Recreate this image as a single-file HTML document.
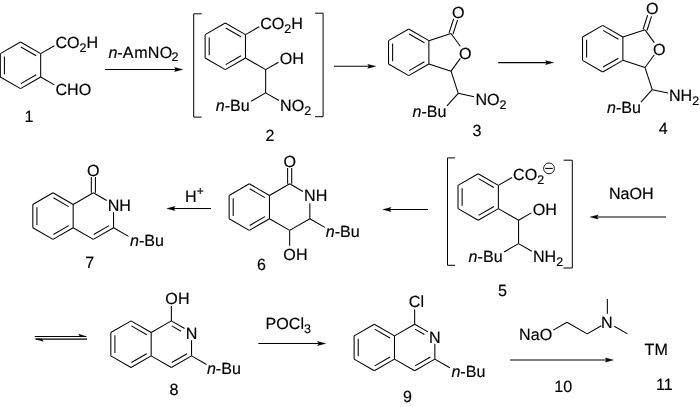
<!DOCTYPE html>
<html lang="en"><head><meta charset="utf-8"><title>Reaction scheme</title>
<style>
html,body{margin:0;padding:0;background:#fff;}
body{width:700px;height:407px;overflow:hidden;}
svg{display:block;will-change:transform;}
.ah{fill:#000;stroke:#000;stroke-width:0.25;stroke-linejoin:miter;}
.br{stroke-width:1.0;}
text{white-space:pre;text-rendering:geometricPrecision;}
</style></head>
<body>
<svg width="700" height="407" viewBox="0 0 700 407">
<g fill="none" stroke="#000" stroke-width="1.05" stroke-linecap="butt" stroke-linejoin="miter">
<line x1="20.50" y1="42.00" x2="40.68" y2="53.65"/>
<line x1="40.68" y1="53.65" x2="40.68" y2="76.95"/>
<line x1="40.68" y1="76.95" x2="20.50" y2="88.60"/>
<line x1="20.50" y1="88.60" x2="0.32" y2="76.95"/>
<line x1="0.32" y1="76.95" x2="0.32" y2="53.65"/>
<line x1="0.32" y1="53.65" x2="20.50" y2="42.00"/>
<line x1="20.87" y1="46.95" x2="36.21" y2="55.80"/>
<line x1="36.21" y1="74.80" x2="20.87" y2="83.65"/>
<line x1="4.42" y1="74.15" x2="4.42" y2="56.45"/>
<line x1="40.68" y1="53.65" x2="54.36" y2="45.75"/>
<line x1="40.68" y1="76.95" x2="54.36" y2="84.85"/>
<line x1="105.10" y1="69.50" x2="176.10" y2="69.50"/>
<path class="ah" d="M182.80,69.50 L174.40,67.35 L175.80,69.50 L174.40,71.65 Z"/>
<line x1="225.30" y1="23.00" x2="245.48" y2="34.65"/>
<line x1="245.48" y1="34.65" x2="245.48" y2="57.95"/>
<line x1="245.48" y1="57.95" x2="225.30" y2="69.60"/>
<line x1="225.30" y1="69.60" x2="205.12" y2="57.95"/>
<line x1="205.12" y1="57.95" x2="205.12" y2="34.65"/>
<line x1="205.12" y1="34.65" x2="225.30" y2="23.00"/>
<line x1="225.67" y1="27.95" x2="241.01" y2="36.80"/>
<line x1="241.01" y1="55.80" x2="225.67" y2="64.65"/>
<line x1="209.22" y1="55.15" x2="209.22" y2="37.45"/>
<line x1="245.48" y1="34.65" x2="259.16" y2="26.75"/>
<line x1="245.48" y1="57.95" x2="265.66" y2="69.60"/>
<line x1="265.66" y1="69.60" x2="278.47" y2="62.20"/>
<line x1="265.66" y1="69.60" x2="265.66" y2="92.90"/>
<line x1="265.66" y1="92.90" x2="251.11" y2="101.30"/>
<line x1="265.66" y1="92.90" x2="278.91" y2="100.55"/>
<polyline class="br" points="201.70,13.80 193.70,13.80 193.70,117.10 201.70,117.10"/>
<polyline class="br" points="315.10,13.20 323.10,13.20 323.10,116.70 315.10,116.70"/>
<line x1="334.00" y1="66.30" x2="369.30" y2="66.30"/>
<path class="ah" d="M376.00,66.30 L367.60,64.15 L369.00,66.30 L367.60,68.45 Z"/>
<line x1="408.70" y1="29.00" x2="428.88" y2="40.65"/>
<line x1="428.88" y1="40.65" x2="428.88" y2="63.95"/>
<line x1="428.88" y1="63.95" x2="408.70" y2="75.60"/>
<line x1="408.70" y1="75.60" x2="388.52" y2="63.95"/>
<line x1="388.52" y1="63.95" x2="388.52" y2="40.65"/>
<line x1="388.52" y1="40.65" x2="408.70" y2="29.00"/>
<line x1="409.07" y1="33.95" x2="424.41" y2="42.80"/>
<line x1="424.41" y1="61.80" x2="409.07" y2="70.65"/>
<line x1="392.62" y1="61.15" x2="392.62" y2="43.45"/>
<line x1="428.88" y1="40.65" x2="451.04" y2="33.45"/>
<line x1="451.04" y1="33.45" x2="460.33" y2="46.23"/>
<line x1="460.33" y1="58.37" x2="451.04" y2="71.15"/>
<line x1="451.04" y1="71.15" x2="428.88" y2="63.95"/>
<line x1="452.99" y1="34.08" x2="457.56" y2="20.01"/>
<line x1="449.09" y1="32.82" x2="453.66" y2="18.74"/>
<line x1="451.04" y1="71.15" x2="458.24" y2="93.31"/>
<line x1="458.24" y1="93.31" x2="447.00" y2="105.79"/>
<line x1="458.24" y1="93.31" x2="473.99" y2="96.66"/>
<line x1="602.70" y1="25.40" x2="622.88" y2="37.05"/>
<line x1="622.88" y1="37.05" x2="622.88" y2="60.35"/>
<line x1="622.88" y1="60.35" x2="602.70" y2="72.00"/>
<line x1="602.70" y1="72.00" x2="582.52" y2="60.35"/>
<line x1="582.52" y1="60.35" x2="582.52" y2="37.05"/>
<line x1="582.52" y1="37.05" x2="602.70" y2="25.40"/>
<line x1="603.07" y1="30.35" x2="618.41" y2="39.20"/>
<line x1="618.41" y1="58.20" x2="603.07" y2="67.05"/>
<line x1="586.62" y1="57.55" x2="586.62" y2="39.85"/>
<line x1="622.88" y1="37.05" x2="645.04" y2="29.85"/>
<line x1="645.04" y1="29.85" x2="654.33" y2="42.63"/>
<line x1="654.33" y1="54.77" x2="645.04" y2="67.55"/>
<line x1="645.04" y1="67.55" x2="622.88" y2="60.35"/>
<line x1="646.99" y1="30.48" x2="651.56" y2="16.41"/>
<line x1="643.09" y1="29.22" x2="647.66" y2="15.14"/>
<line x1="645.04" y1="67.55" x2="652.24" y2="89.71"/>
<line x1="652.24" y1="89.71" x2="641.00" y2="102.19"/>
<line x1="652.24" y1="89.71" x2="667.99" y2="93.06"/>
<line x1="498.20" y1="62.60" x2="547.10" y2="62.60"/>
<path class="ah" d="M553.80,62.60 L545.40,60.45 L546.80,62.60 L545.40,64.75 Z"/>
<line x1="478.20" y1="173.70" x2="498.38" y2="185.35"/>
<line x1="498.38" y1="185.35" x2="498.38" y2="208.65"/>
<line x1="498.38" y1="208.65" x2="478.20" y2="220.30"/>
<line x1="478.20" y1="220.30" x2="458.02" y2="208.65"/>
<line x1="458.02" y1="208.65" x2="458.02" y2="185.35"/>
<line x1="458.02" y1="185.35" x2="478.20" y2="173.70"/>
<line x1="478.57" y1="178.65" x2="493.91" y2="187.50"/>
<line x1="493.91" y1="206.50" x2="478.57" y2="215.35"/>
<line x1="462.12" y1="205.85" x2="462.12" y2="188.15"/>
<line x1="498.38" y1="185.35" x2="512.06" y2="177.45"/>
<circle cx="549.0" cy="168.4" r="5.4" stroke-width="0.9"/>
<line x1="545.20" y1="168.40" x2="552.80" y2="168.40"/>
<line x1="498.38" y1="208.65" x2="518.56" y2="220.30"/>
<line x1="518.56" y1="220.30" x2="531.37" y2="212.90"/>
<line x1="518.56" y1="220.30" x2="518.56" y2="243.60"/>
<line x1="518.56" y1="243.60" x2="504.01" y2="252.00"/>
<line x1="518.56" y1="243.60" x2="531.81" y2="251.25"/>
<polyline class="br" points="455.10,157.90 447.50,157.90 447.50,265.30 455.10,265.30"/>
<polyline class="br" points="563.50,160.20 572.30,160.20 572.30,268.00 563.50,268.00"/>
<line x1="666.00" y1="217.00" x2="596.60" y2="217.00"/>
<path class="ah" d="M589.90,217.00 L598.30,214.85 L596.90,217.00 L598.30,219.15 Z"/>
<line x1="428.10" y1="209.50" x2="389.40" y2="209.50"/>
<path class="ah" d="M382.70,209.50 L391.10,207.35 L389.70,209.50 L391.10,211.65 Z"/>
<line x1="249.30" y1="183.80" x2="269.48" y2="195.45"/>
<line x1="269.48" y1="195.45" x2="269.48" y2="218.75"/>
<line x1="269.48" y1="218.75" x2="249.30" y2="230.40"/>
<line x1="249.30" y1="230.40" x2="229.12" y2="218.75"/>
<line x1="229.12" y1="218.75" x2="229.12" y2="195.45"/>
<line x1="229.12" y1="195.45" x2="249.30" y2="183.80"/>
<line x1="249.67" y1="188.75" x2="265.01" y2="197.60"/>
<line x1="265.01" y1="216.60" x2="249.67" y2="225.45"/>
<line x1="233.22" y1="215.95" x2="233.22" y2="198.25"/>
<line x1="269.48" y1="195.45" x2="289.66" y2="183.80"/>
<line x1="289.66" y1="183.80" x2="302.91" y2="191.45"/>
<line x1="309.84" y1="203.25" x2="309.84" y2="218.75"/>
<line x1="309.84" y1="218.75" x2="289.66" y2="230.40"/>
<line x1="289.66" y1="230.40" x2="269.48" y2="218.75"/>
<line x1="291.71" y1="183.80" x2="291.71" y2="168.00"/>
<line x1="287.61" y1="183.80" x2="287.61" y2="168.00"/>
<line x1="289.66" y1="230.40" x2="289.66" y2="245.70"/>
<line x1="309.84" y1="218.75" x2="324.82" y2="227.40"/>
<line x1="210.90" y1="208.50" x2="173.40" y2="208.50"/>
<path class="ah" d="M166.70,208.50 L175.10,206.35 L173.70,208.50 L175.10,210.65 Z"/>
<line x1="53.00" y1="192.80" x2="73.18" y2="204.45"/>
<line x1="73.18" y1="204.45" x2="73.18" y2="227.75"/>
<line x1="73.18" y1="227.75" x2="53.00" y2="239.40"/>
<line x1="53.00" y1="239.40" x2="32.82" y2="227.75"/>
<line x1="32.82" y1="227.75" x2="32.82" y2="204.45"/>
<line x1="32.82" y1="204.45" x2="53.00" y2="192.80"/>
<line x1="53.37" y1="197.75" x2="68.71" y2="206.60"/>
<line x1="68.71" y1="225.60" x2="53.37" y2="234.45"/>
<line x1="36.92" y1="224.95" x2="36.92" y2="207.25"/>
<line x1="73.18" y1="204.45" x2="93.36" y2="192.80"/>
<line x1="93.36" y1="192.80" x2="106.61" y2="200.45"/>
<line x1="113.54" y1="212.25" x2="113.54" y2="227.75"/>
<line x1="113.54" y1="227.75" x2="93.36" y2="239.40"/>
<line x1="93.36" y1="239.40" x2="73.18" y2="227.75"/>
<line x1="109.06" y1="225.60" x2="93.73" y2="234.45"/>
<line x1="95.41" y1="192.80" x2="95.41" y2="177.00"/>
<line x1="91.31" y1="192.80" x2="91.31" y2="177.00"/>
<line x1="113.54" y1="227.75" x2="128.52" y2="236.40"/>
<line x1="34.80" y1="336.45" x2="86.00" y2="336.45"/>
<line x1="35.80" y1="339.10" x2="87.00" y2="339.10"/>
<path class="ah" d="M87.0,336.7 L78.6,334.1 L80.0,336.7 Z"/>
<path class="ah" d="M34.8,338.85 L43.2,341.45 L41.8,338.85 Z"/>
<line x1="131.00" y1="320.90" x2="151.18" y2="332.55"/>
<line x1="151.18" y1="332.55" x2="151.18" y2="355.85"/>
<line x1="151.18" y1="355.85" x2="131.00" y2="367.50"/>
<line x1="131.00" y1="367.50" x2="110.82" y2="355.85"/>
<line x1="110.82" y1="355.85" x2="110.82" y2="332.55"/>
<line x1="110.82" y1="332.55" x2="131.00" y2="320.90"/>
<line x1="131.37" y1="325.85" x2="146.71" y2="334.70"/>
<line x1="146.71" y1="353.70" x2="131.37" y2="362.55"/>
<line x1="114.92" y1="353.05" x2="114.92" y2="335.35"/>
<line x1="151.18" y1="332.55" x2="171.36" y2="320.90"/>
<line x1="171.36" y1="320.90" x2="184.61" y2="328.55"/>
<line x1="191.54" y1="340.35" x2="191.54" y2="355.85"/>
<line x1="191.54" y1="355.85" x2="171.36" y2="367.50"/>
<line x1="171.36" y1="367.50" x2="151.18" y2="355.85"/>
<line x1="187.06" y1="353.70" x2="171.73" y2="362.55"/>
<line x1="171.73" y1="325.85" x2="181.01" y2="331.21"/>
<line x1="171.36" y1="320.90" x2="171.36" y2="306.10"/>
<line x1="191.54" y1="355.85" x2="206.52" y2="364.50"/>
<line x1="374.30" y1="324.20" x2="394.48" y2="335.85"/>
<line x1="394.48" y1="335.85" x2="394.48" y2="359.15"/>
<line x1="394.48" y1="359.15" x2="374.30" y2="370.80"/>
<line x1="374.30" y1="370.80" x2="354.12" y2="359.15"/>
<line x1="354.12" y1="359.15" x2="354.12" y2="335.85"/>
<line x1="354.12" y1="335.85" x2="374.30" y2="324.20"/>
<line x1="374.67" y1="329.15" x2="390.01" y2="338.00"/>
<line x1="390.01" y1="357.00" x2="374.67" y2="365.85"/>
<line x1="358.22" y1="356.35" x2="358.22" y2="338.65"/>
<line x1="394.48" y1="335.85" x2="414.66" y2="324.20"/>
<line x1="414.66" y1="324.20" x2="427.91" y2="331.85"/>
<line x1="434.84" y1="343.65" x2="434.84" y2="359.15"/>
<line x1="434.84" y1="359.15" x2="414.66" y2="370.80"/>
<line x1="414.66" y1="370.80" x2="394.48" y2="359.15"/>
<line x1="430.36" y1="357.00" x2="415.03" y2="365.85"/>
<line x1="415.03" y1="329.15" x2="424.31" y2="334.51"/>
<line x1="414.66" y1="324.20" x2="414.66" y2="309.40"/>
<line x1="434.84" y1="359.15" x2="449.82" y2="367.80"/>
<line x1="258.30" y1="343.50" x2="319.10" y2="343.50"/>
<path class="ah" d="M325.80,343.50 L317.40,341.35 L318.80,343.50 L317.40,345.65 Z"/>
<line x1="553.30" y1="330.15" x2="566.98" y2="322.25"/>
<line x1="566.98" y1="322.25" x2="587.16" y2="333.90"/>
<line x1="587.16" y1="333.90" x2="601.27" y2="325.75"/>
<line x1="607.34" y1="313.75" x2="607.34" y2="298.95"/>
<line x1="614.26" y1="326.25" x2="627.51" y2="333.90"/>
<line x1="510.10" y1="360.00" x2="606.90" y2="360.00"/>
<path class="ah" d="M613.60,360.00 L605.20,357.85 L606.60,360.00 L605.20,362.15 Z"/>
</g>
<g font-family="'Liberation Sans', Arial, sans-serif" fill="#000" stroke="#000" stroke-width="0.16" letter-spacing="0">
<text transform="translate(55.40,48) scale(1.006,1.012)" text-anchor="start" font-size="16.0">CO<tspan font-size="12.4" dy="3.5">2</tspan><tspan dy="-3.5">H</tspan></text>
<text transform="translate(55.40,95) scale(1.006,1.012)" text-anchor="start" font-size="16.0">CHO</text>
<text transform="translate(29.00,122) scale(1.006,1.012)" text-anchor="middle" font-size="16.0">1</text>
<text transform="translate(108.40,58) scale(1.006,1.012)" text-anchor="start" font-size="16.0"><tspan font-style="italic">n</tspan>-A<tspan dx="0.7">m</tspan><tspan dx="0.3">N</tspan><tspan dx="0.3">O</tspan><tspan font-size="12.4" dy="3.0" dx="-0.9">2</tspan></text>
<text transform="translate(260.16,29) scale(1.006,1.012)" text-anchor="start" font-size="16.0">CO<tspan font-size="12.4" dy="3.5">2</tspan><tspan dy="-3.5">H</tspan></text>
<text transform="translate(279.84,64) scale(1.006,1.012)" text-anchor="start" font-size="16.0">OH</text>
<text transform="translate(249.80,111) scale(1.006,1.012)" text-anchor="end" font-size="16.0"><tspan font-style="italic">n</tspan>-Bu</text>
<text transform="translate(280.04,111) scale(1.006,1.012)" text-anchor="start" font-size="16.0">NO<tspan font-size="12.4" dy="3.5">2</tspan></text>
<text transform="translate(269.90,141) scale(1.006,1.012)" text-anchor="middle" font-size="16.0">2</text>
<text transform="translate(458.24,18) scale(1.006,1.012)" text-anchor="middle" font-size="16.0">O</text>
<text transform="translate(465.33,59) scale(1.006,1.012)" text-anchor="middle" font-size="16.0">O</text>
<text transform="translate(475.40,105) scale(1.006,1.012)" text-anchor="start" font-size="16.0">NO<tspan font-size="12.4" dy="3.5">2</tspan></text>
<text transform="translate(446.50,117) scale(1.006,1.012)" text-anchor="end" font-size="16.0"><tspan font-style="italic">n</tspan>-Bu</text>
<text transform="translate(477.00,136) scale(1.006,1.012)" text-anchor="middle" font-size="16.0">3</text>
<text transform="translate(652.24,14) scale(1.006,1.012)" text-anchor="middle" font-size="16.0">O</text>
<text transform="translate(659.33,55) scale(1.006,1.012)" text-anchor="middle" font-size="16.0">O</text>
<text transform="translate(669.00,101) scale(1.006,1.012)" text-anchor="start" font-size="16.0">NH<tspan font-size="12.4" dy="3.5">2</tspan></text>
<text transform="translate(641.00,113) scale(1.006,1.012)" text-anchor="end" font-size="16.0"><tspan font-style="italic">n</tspan>-Bu</text>
<text transform="translate(663.30,134) scale(1.006,1.012)" text-anchor="middle" font-size="16.0">4</text>
<text transform="translate(513.06,180) scale(1.006,1.012)" text-anchor="start" font-size="16.0">CO<tspan font-size="12.4" dy="3.5">2</tspan></text>
<text transform="translate(532.74,215) scale(1.006,1.012)" text-anchor="start" font-size="16.0">OH</text>
<text transform="translate(502.60,262) scale(1.006,1.012)" text-anchor="end" font-size="16.0"><tspan font-style="italic">n</tspan>-Bu</text>
<text transform="translate(532.94,262) scale(1.006,1.012)" text-anchor="start" font-size="16.0">NH<tspan font-size="12.4" dy="3.5">2</tspan></text>
<text transform="translate(502.50,296) scale(1.006,1.012)" text-anchor="middle" font-size="16.0">5</text>
<text transform="translate(609.00,199) scale(1.006,1.012)" text-anchor="start" font-size="16.0">NaOH</text>
<text transform="translate(289.66,167) scale(1.006,1.012)" text-anchor="middle" font-size="16.0">O</text>
<text transform="translate(304.04,201) scale(1.006,1.012)" text-anchor="start" font-size="16.0">NH</text>
<text transform="translate(283.36,260) scale(1.006,1.012)" text-anchor="start" font-size="16.0">OH</text>
<text transform="translate(325.70,237) scale(1.006,1.012)" text-anchor="start" font-size="16.0"><tspan font-style="italic">n</tspan>-Bu</text>
<text transform="translate(261.50,270) scale(1.006,1.012)" text-anchor="middle" font-size="16.0">6</text>
<text transform="translate(184.90,202) scale(1.006,1.012)" text-anchor="start" font-size="16.0">H<tspan font-size="12" dy="-6.5" dx="0.1">+</tspan></text>
<text transform="translate(93.36,176) scale(1.006,1.012)" text-anchor="middle" font-size="16.0">O</text>
<text transform="translate(107.74,211) scale(1.006,1.012)" text-anchor="start" font-size="16.0">NH</text>
<text transform="translate(130.00,246) scale(1.006,1.012)" text-anchor="start" font-size="16.0"><tspan font-style="italic">n</tspan>-Bu</text>
<text transform="translate(89.70,268) scale(1.006,1.012)" text-anchor="middle" font-size="16.0">7</text>
<text transform="translate(165.36,304) scale(1.006,1.012)" text-anchor="start" font-size="16.0">OH</text>
<text transform="translate(191.54,339) scale(1.006,1.012)" text-anchor="middle" font-size="16.0">N</text>
<text transform="translate(206.90,374) scale(1.006,1.012)" text-anchor="start" font-size="16.0"><tspan font-style="italic">n</tspan>-Bu</text>
<text transform="translate(174.00,395) scale(1.006,1.012)" text-anchor="middle" font-size="16.0">8</text>
<text transform="translate(408.86,307) scale(1.006,1.012)" text-anchor="start" font-size="16.0">Cl</text>
<text transform="translate(434.84,343) scale(1.006,1.012)" text-anchor="middle" font-size="16.0">N</text>
<text transform="translate(451.40,377) scale(1.006,1.012)" text-anchor="start" font-size="16.0"><tspan font-style="italic">n</tspan>-Bu</text>
<text transform="translate(407.50,402) scale(1.006,1.012)" text-anchor="middle" font-size="16.0">9</text>
<text transform="translate(265.50,329) scale(1.006,1.012)" text-anchor="start" font-size="16.0">POCl<tspan font-size="12.4" dy="3.5">3</tspan></text>
<text transform="translate(606.74,328) scale(1.006,1.012)" text-anchor="middle" font-size="16.0">N</text>
<text transform="translate(552.20,340) scale(1.006,1.012)" text-anchor="end" font-size="16.0">NaO</text>
<text transform="translate(563.30,392) scale(1.006,1.012)" text-anchor="middle" font-size="16.0">10</text>
<text transform="translate(644.60,355) scale(1.006,1.012)" text-anchor="start" font-size="16.0">TM</text>
<text transform="translate(664.30,390) scale(1.006,1.012)" text-anchor="middle" font-size="16.0">11</text>
</g></svg>
</body></html>
